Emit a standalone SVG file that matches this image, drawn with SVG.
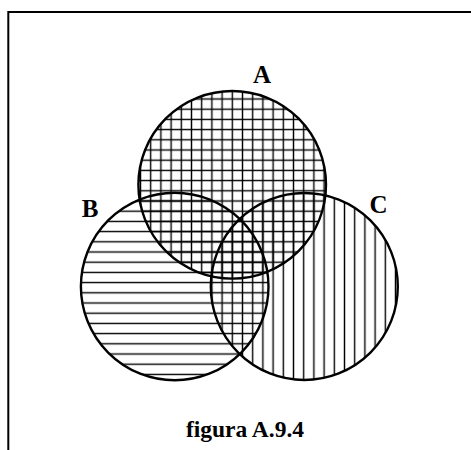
<svg xmlns="http://www.w3.org/2000/svg" width="471" height="450" viewBox="0 0 471 450">
<style>
.lbl{font-family:"Liberation Serif","Times New Roman",serif;font-weight:bold;font-size:25px;fill:#000}
.cap{font-family:"Liberation Serif","Times New Roman",serif;font-weight:bold;font-size:23.5px;fill:#000}
.circ{stroke:#000;stroke-width:2.4}
.hatch{stroke:#000;stroke-width:1.4}
</style>
<defs>
<pattern id="pv" patternUnits="userSpaceOnUse" x="227.2" y="144.9" width="10.2" height="10.2">
<line class="hatch" x1="5.1" y1="0" x2="5.1" y2="10.2"/>
</pattern>
<pattern id="ph" patternUnits="userSpaceOnUse" x="227.2" y="144.9" width="10.2" height="10.2">
<line class="hatch" x1="0" y1="5.1" x2="10.2" y2="5.1"/>
</pattern>
<pattern id="pg" patternUnits="userSpaceOnUse" x="227.2" y="144.9" width="10.2" height="10.2">
<line class="hatch" x1="5.1" y1="0" x2="5.1" y2="10.2"/>
<line class="hatch" x1="0" y1="5.1" x2="10.2" y2="5.1"/>
</pattern>
</defs>
<rect width="471" height="450" fill="#fff"/>
<path d="M8.3,450 V12 H471" fill="none" stroke="#000" stroke-width="2"/>
<g id="fills">
<circle cx="232.2" cy="184.8" r="93.8" fill="url(#pg)"/>
<circle cx="174.7" cy="286.5" r="93.8" fill="url(#ph)"/>
<circle cx="304.3" cy="286.5" r="93.5" fill="url(#pv)"/>
</g>
<g id="A"><circle class="circ" cx="232.2" cy="184.8" r="93.8" fill="none"/><text class="lbl" x="262" y="83" text-anchor="middle">A</text></g>
<g id="B"><circle class="circ" cx="174.7" cy="286.5" r="93.8" fill="none"/><text class="lbl" x="90" y="216.7" text-anchor="middle">B</text></g>
<g id="C"><circle class="circ" cx="304.3" cy="286.5" r="93.5" fill="none"/><text class="lbl" x="378.5" y="213.3" text-anchor="middle">C</text></g>
<g id="connectors"/>
<text class="cap" x="245" y="436.5" text-anchor="middle">figura A.9.4</text>
</svg>
